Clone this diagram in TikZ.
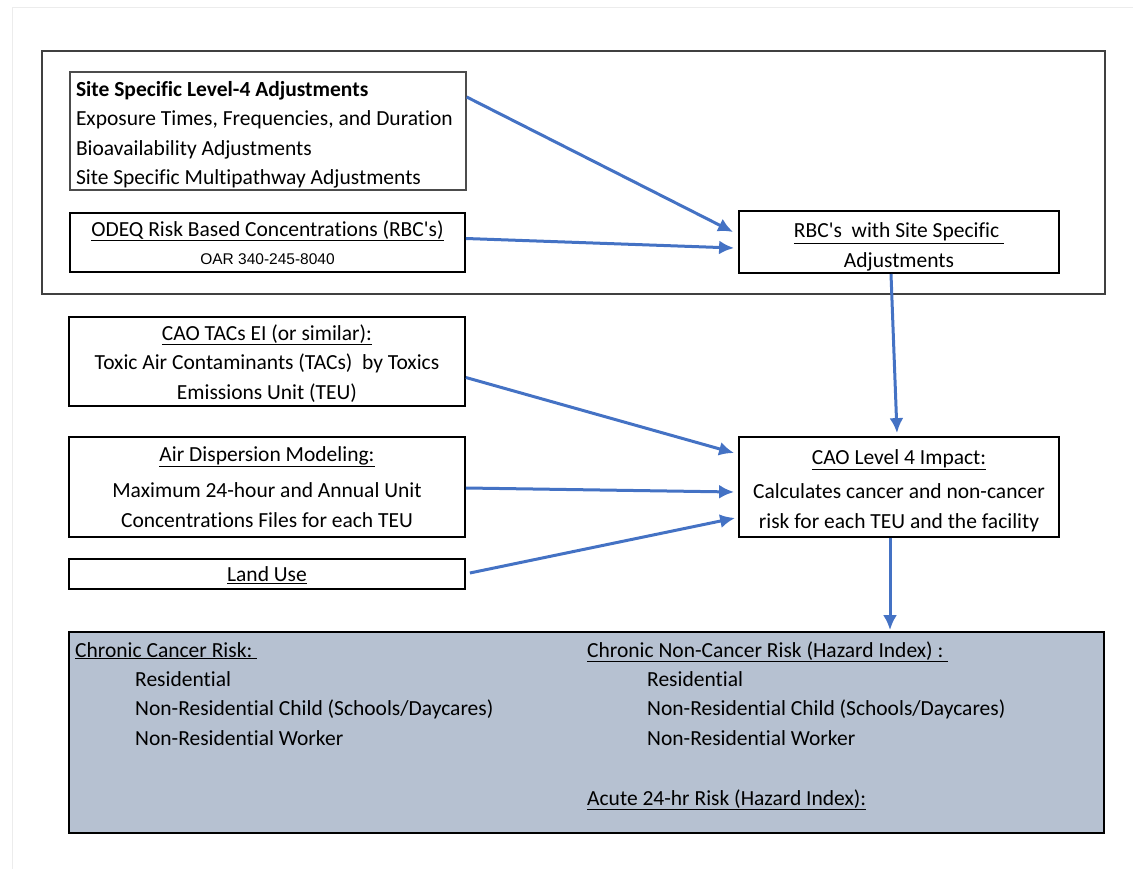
\documentclass[tikz,border=0pt]{standalone}
\usepackage{fontspec}
\setmainfont{Carlito}[Ligatures={TeXOff,NoCommon}]
\newfontfamily\arialf{Liberation Sans}
\usetikzlibrary{arrows.meta,calc}
\definecolor{arrblue}{RGB}{68,114,196}
\definecolor{riskfill}{RGB}{182,193,209}
\newcommand\myul[1]{\underline{#1}}
\begin{document}
\begin{tikzpicture}[x=1pt,y=-1pt,
  txt/.style={font=\fontsize{21.5}{29.5}\selectfont},
  box/.style={draw=black, line width=1.8pt, txt, inner xsep=6pt, inner ysep=0pt, align=flush center},
  lbl/.style={txt, inner sep=0pt, anchor=base west},
  arr/.style={draw=arrblue, line width=3pt, -{Latex[length=15pt,width=14pt]}}]
\useasboundingbox (0,0) rectangle (1133,869);
\draw[gray!15, line width=1pt] (12,869) -- (12,8) -- (1133,8);
% top group frame
\node[draw=black!75, line width=1.2pt, minimum width=1063pt, minimum height=243pt, inner sep=0pt] (grp) at (573.5,172.5) {};
% boxes
\node[box, draw=black!70, line width=1.4pt, text width=384pt, minimum height=118pt, align=flush left] (site) at (268,131)
  {\rule{0pt}{23pt}\textbf{Site Specific Level-4 Adjustments}\\Exposure Times, Frequencies, and Duration\\Bioavailability Adjustments\\Site Specific Multipathway Adjustments};
\node[box, text width=383pt, minimum height=59pt] (odeq) at (267.5,242.5)
  {\myul{ODEQ Risk Based Concentrations (RBC's)}\\[-1pt]{\arialf\fontsize{15.5}{18}\selectfont OAR 340-245-8040}};
\node[box, text width=308pt, minimum height=60pt] (rbc) at (899,242)
  {\rule{0pt}{27pt}\myul{RBC's\ \ with Site Specific\ }\\\myul{Adjustments}};
\node[box, text width=384pt, minimum height=89pt] (teu) at (267,361.5)
  {\rule{0pt}{19pt}\myul{CAO TACs EI (or similar):}\\Toxic Air Contaminants (TACs)\ \ by Toxics\\Emissions Unit (TEU)};
\node[box, text width=384pt, minimum height=100pt] (air) at (267,487)
  {\myul{Air Dispersion Modeling:}\\[7pt]Maximum 24-hour and Annual Unit\\Concentrations Files for each TEU};
\node[box, text width=384pt, minimum height=30pt] (land) at (267,574)
  {\rule{0pt}{18pt}\myul{Land Use}};
\node[box, text width=308pt, minimum height=100pt] (cao) at (899,487)
  {\rule{0pt}{22pt}\myul{CAO Level 4 Impact:}\\[5pt]Calculates cancer and non-cancer\\risk for each TEU and the facility};
% risk box
\node[draw=black, line width=1.8pt, fill=riskfill, minimum width=1035pt, minimum height=201pt, inner sep=0pt] (risk) at (586.5,732.5) {};
\node[lbl] (cc) at (75,657) {\myul{Chronic Cancer Risk:\ }};
\node[lbl] (cc1) at (135,686) {Residential};
\node[lbl] (cc2) at (135,715.5) {Non-Residential Child (Schools/Daycares)};
\node[lbl] (cc3) at (135,745) {Non-Residential Worker};
\node[lbl] (nc) at (587,657) {\myul{Chronic Non-Cancer Risk (Hazard Index) :\ }};
\node[lbl] (nc1) at (647,686) {Residential};
\node[lbl] (nc2) at (647,715.5) {Non-Residential Child (Schools/Daycares)};
\node[lbl] (nc3) at (647,745) {Non-Residential Worker};
\node[lbl] (ac) at (587,805) {\myul{Acute 24-hr Risk (Hazard Index):}};
% arrows
\draw[arr] ([yshift=34pt]site.east) -- ([xshift=-5pt,yshift=10pt]rbc.west);
\draw[arr] ([yshift=4pt]odeq.east) -- ([xshift=-4pt,yshift=-6pt]rbc.west);
\draw[arr] ([xshift=-8pt]rbc.south) -- ([xshift=-2pt,yshift=3pt]cao.north);
\draw[arr] ([yshift=-16pt]teu.east) -- ([xshift=-4pt,yshift=34pt]cao.west);
\draw[arr] ([yshift=-1pt]air.east) -- ([xshift=-4pt,yshift=-5pt]cao.west);
\draw[arr] ([xshift=4pt,yshift=1pt]land.east) -- ([xshift=-3pt,yshift=-31pt]cao.west);
\draw[arr] ([xshift=-9pt]cao.south) -- ([xshift=-9pt,yshift=1pt]cao.south |- risk.north);
\end{tikzpicture}
\end{document}
